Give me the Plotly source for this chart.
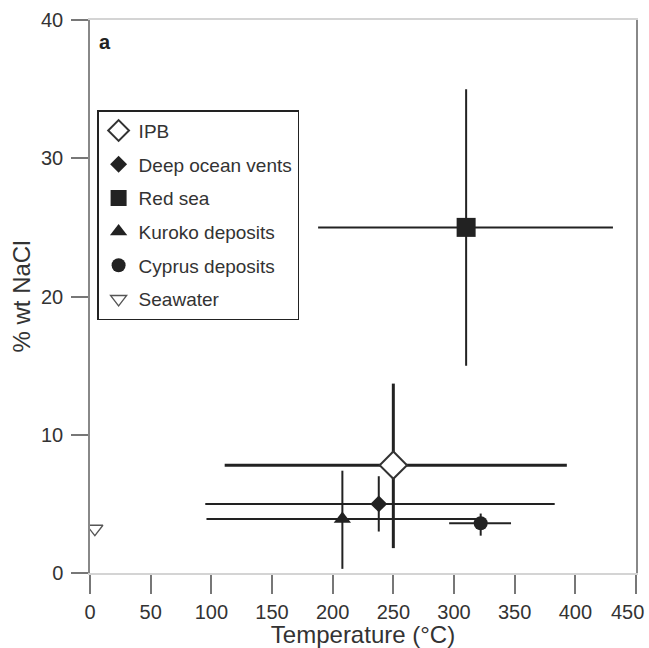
import plotly.graph_objects as go

# ---- data ----
names = ["IPB", "Deep ocean vents", "Red sea", "Kuroko deposits", "Cyprus deposits", "Seawater"]
temp = [250, 238, 310, 208, 322, 4]
nacl = [7.8, 5.0, 25.0, 3.9, 3.6, 3.2]
temp_low = [111, 95, 188, 96, 296, None]
temp_high = [393, 383, 431, 320, 347, None]
nacl_low = [1.8, 3.0, 15.0, 0.3, 2.7, None]
nacl_high = [13.7, 7.0, 35.0, 7.4, 4.3, None]

x_ticks = [0, 50, 100, 150, 200, 250, 300, 350, 400, 450]
x_ticktext = ["0", "50", "100", "150", "200", "250", "300", "350", "400", ""]
x_last_label = "450"
y_ticks = [0, 10, 20, 30, 40]

# ---- styles ----
symbols = ["diamond", "diamond", "square", "triangle-up", "circle", "triangle-down"]
fills = ["white", "#222", "#222", "#222", "#222", "white"]
sizes = [21, 13, 19, 15, 14, 14]
line_w = [2, 0, 0, 0, 0, 1.3]
line_c = ["#333", "#222", "#222", "#222", "#222", "#555"]
err_w = [3, 2, 2, 2, 2, 2]

FONT = "Liberation Sans, Arial, sans-serif"
TXT = "#333"

fig = go.Figure()
for i, n in enumerate(names):
    kw = {}
    if temp_low[i] is not None:
        kw["error_x"] = dict(type="data", symmetric=False,
                             array=[temp_high[i] - temp[i]],
                             arrayminus=[temp[i] - temp_low[i]],
                             width=0, thickness=err_w[i], color="#222")
        kw["error_y"] = dict(type="data", symmetric=False,
                             array=[nacl_high[i] - nacl[i]],
                             arrayminus=[nacl[i] - nacl_low[i]],
                             width=0, thickness=err_w[i], color="#222")
    fig.add_trace(go.Scatter(
        x=[temp[i]], y=[nacl[i]], mode="markers", name=n,
        legendgroup=n,
        marker=dict(symbol=symbols[i], size=sizes[i], color=fills[i],
                    line=dict(width=line_w[i], color=line_c[i])),
        **kw))

fig.add_annotation(text="<b>a</b>", xref="paper", yref="paper",
                   x=0.013, y=0.96, xanchor="left", yanchor="middle",
                   showarrow=False, font=dict(family=FONT, size=20, color="#222"))

# last x tick label, nudged left so it stays inside the page (as in the reference)
fig.add_annotation(text=x_last_label, xref="x", yref="paper",
                   x=x_ticks[-1], y=0, xanchor="center", yanchor="middle",
                   xshift=-9, yshift=-39, showarrow=False,
                   font=dict(family=FONT, size=20, color=TXT))

fig.update_layout(
    width=649, height=648,
    margin=dict(l=90, r=13, t=20, b=75, autoexpand=False),
    paper_bgcolor="white", plot_bgcolor="white",
    font=dict(family=FONT, size=20, color=TXT),
    showlegend=True,
    legend=dict(x=0.013, y=0.837, xanchor="left", yanchor="top",
                bordercolor="#222", borderwidth=1.5, bgcolor="white",
                font=dict(family=FONT, size=19, color=TXT),
                tracegroupgap=6, itemsizing="trace"),
    xaxis=dict(range=[0, 450], tickvals=x_ticks, ticktext=x_ticktext,
               ticks="outside", ticklen=19,
               tickwidth=1.5, tickcolor="#777", showline=True, linecolor="#d4d4d4",
               linewidth=1.5, mirror=True, showgrid=False, zeroline=False,
               ticklabeloverflow="allow", ticklabelstandoff=1, automargin=False,
               title=dict(text="Temperature (°C)", standoff=10),
               tickfont=dict(size=20, color=TXT)),
    yaxis=dict(range=[0, 40], tickvals=y_ticks, ticks="outside", ticklen=17,
               tickwidth=1.5, tickcolor="#777", showline=True, linecolor="#888",
               linewidth=1.5, mirror=True, showgrid=False, zeroline=False,
               ticklabelstandoff=4, automargin=False,
               title=dict(text="% wt NaCl", standoff=4),
               tickfont=dict(size=20, color=TXT)),
)

fig.write_html("out.html")
